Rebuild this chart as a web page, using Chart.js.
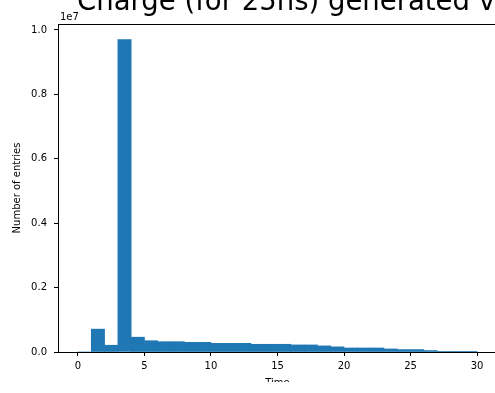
<!doctype html>
<html>

<head>
	<title>Charge histogram</title>
	<script src="https://cdn.jsdelivr.net/npm/chart.js@4/dist/chart.umd.min.js"></script>
	<style>
		html, body {
			margin: 0;
			padding: 0;
			background: #fff;
			overflow: hidden;
		}
		#wrap {
			width: 497px;
			height: 393px;
		}
	</style>
</head>

<body>
	<div id="wrap">
		<canvas id="canvas"></canvas>
	</div>
	<script>
		// histogram bins of width 1, from 0 to 30 (left edges)
		const binEdges = [0, 1, 2, 3, 4, 5, 6, 7, 8, 9, 10, 11, 12, 13, 14, 15, 16, 17, 18, 19, 20, 21, 22, 23, 24, 25, 26, 27, 28, 29];
		const entries = [
			0, 710000, 210000, 9700000, 460000, 350000, 320000, 320000, 300000, 300000,
			270000, 270000, 270000, 240000, 240000, 240000, 220000, 220000, 190000, 160000,
			125000, 125000, 125000, 95000, 75000, 75000, 45000, 20000, 20000, 2000
		];
		const xTicks = [0, 5, 10, 15, 20, 25, 30];
		const yTicks = [0, 2e6, 4e6, 6e6, 8e6, 1e7];

		const titleText = 'Charge (for 25ns) generated vs Time';
		const barColor = '#1f77b4';
		const font = 'DejaVu Sans';

		const points = binEdges.map((e, i) => ({ x: e + 0.5, y: entries[i] }));
		const yMax = Math.max(...entries) * 1.05;

		const framePlugin = {
			id: 'frame',
			afterDraw(chart) {
				const { ctx, chartArea: a } = chart;
				ctx.save();
				// top spine (the right one falls outside the page)
				ctx.strokeStyle = '#000';
				ctx.lineWidth = 1;
				ctx.beginPath();
				ctx.moveTo(a.left, a.top + 0.5);
				ctx.lineTo(a.right, a.top + 0.5);
				ctx.stroke();

				// scale offset text above the y axis
				ctx.fillStyle = '#000';
				ctx.font = '10px "' + font + '"';
				ctx.textAlign = 'left';
				ctx.textBaseline = 'alphabetic';
				ctx.fillText('1e7', a.left + 2, a.top - 4);

				// big title running off the top edge
				ctx.font = '27.5px "' + font + '"';
				ctx.fillText(titleText, 77, 10);

				// bottom strip is blank in the saved figure
				ctx.fillStyle = '#fff';
				ctx.fillRect(0, 382, chart.width, chart.height - 382);
				ctx.restore();
			}
		};

		const config = {
			type: 'bar',
			data: {
				datasets: [{
					label: 'entries',
					data: points,
					backgroundColor: barColor,
					borderWidth: 0,
					barPercentage: 1.0,
					categoryPercentage: 1.0
				}]
			},
			options: {
				responsive: true,
				maintainAspectRatio: false,
				animation: false,
				layout: {
					padding: { top: 24, right: 0, left: 0, bottom: 0 }
				},
				plugins: {
					legend: { display: false },
					tooltip: { enabled: false },
					title: { display: false }
				},
				scales: {
					x: {
						type: 'linear',
						min: -1.5,
						max: 31.5,
						offset: false,
						afterBuildTicks(scale) {
							scale.ticks = xTicks.map(v => ({ value: v }));
						},
						afterFit(scale) {
							scale.height = 41;
						},
						grid: {
							offset: false,
							drawOnChartArea: false,
							drawTicks: true,
							tickLength: 4,
							color: '#000'
						},
						border: { display: true, color: '#000' },
						ticks: {
							color: '#000',
							padding: 4,
							maxRotation: 0,
							font: { family: font, size: 10 },
							callback: v => String(v)
						},
						title: {
							display: true,
							text: 'Time',
							color: '#000',
							padding: { top: 1 },
							font: { family: font, size: 10 }
						}
					},
					y: {
						min: 0,
						max: yMax,
						afterBuildTicks(scale) {
							scale.ticks = yTicks.map(v => ({ value: v }));
						},
						afterFit(scale) {
							scale.width = 58;
						},
						grid: {
							drawOnChartArea: false,
							drawTicks: true,
							tickLength: 4,
							color: '#000'
						},
						border: { display: true, color: '#000' },
						ticks: {
							color: '#000',
							padding: 7,
							font: { family: font, size: 10 },
							callback: v => (v / 1e7).toFixed(1)
						},
						title: {
							display: true,
							text: 'Number of entries',
							color: '#000',
							padding: { top: 11 },
							font: { family: font, size: 10 }
						}
					}
				}
			},
			plugins: [framePlugin]
		};

		window.onload = function() {
			const ctx = document.getElementById('canvas').getContext('2d');
			window.myChart = new Chart(ctx, config);
		};
	</script>
</body>

</html>
